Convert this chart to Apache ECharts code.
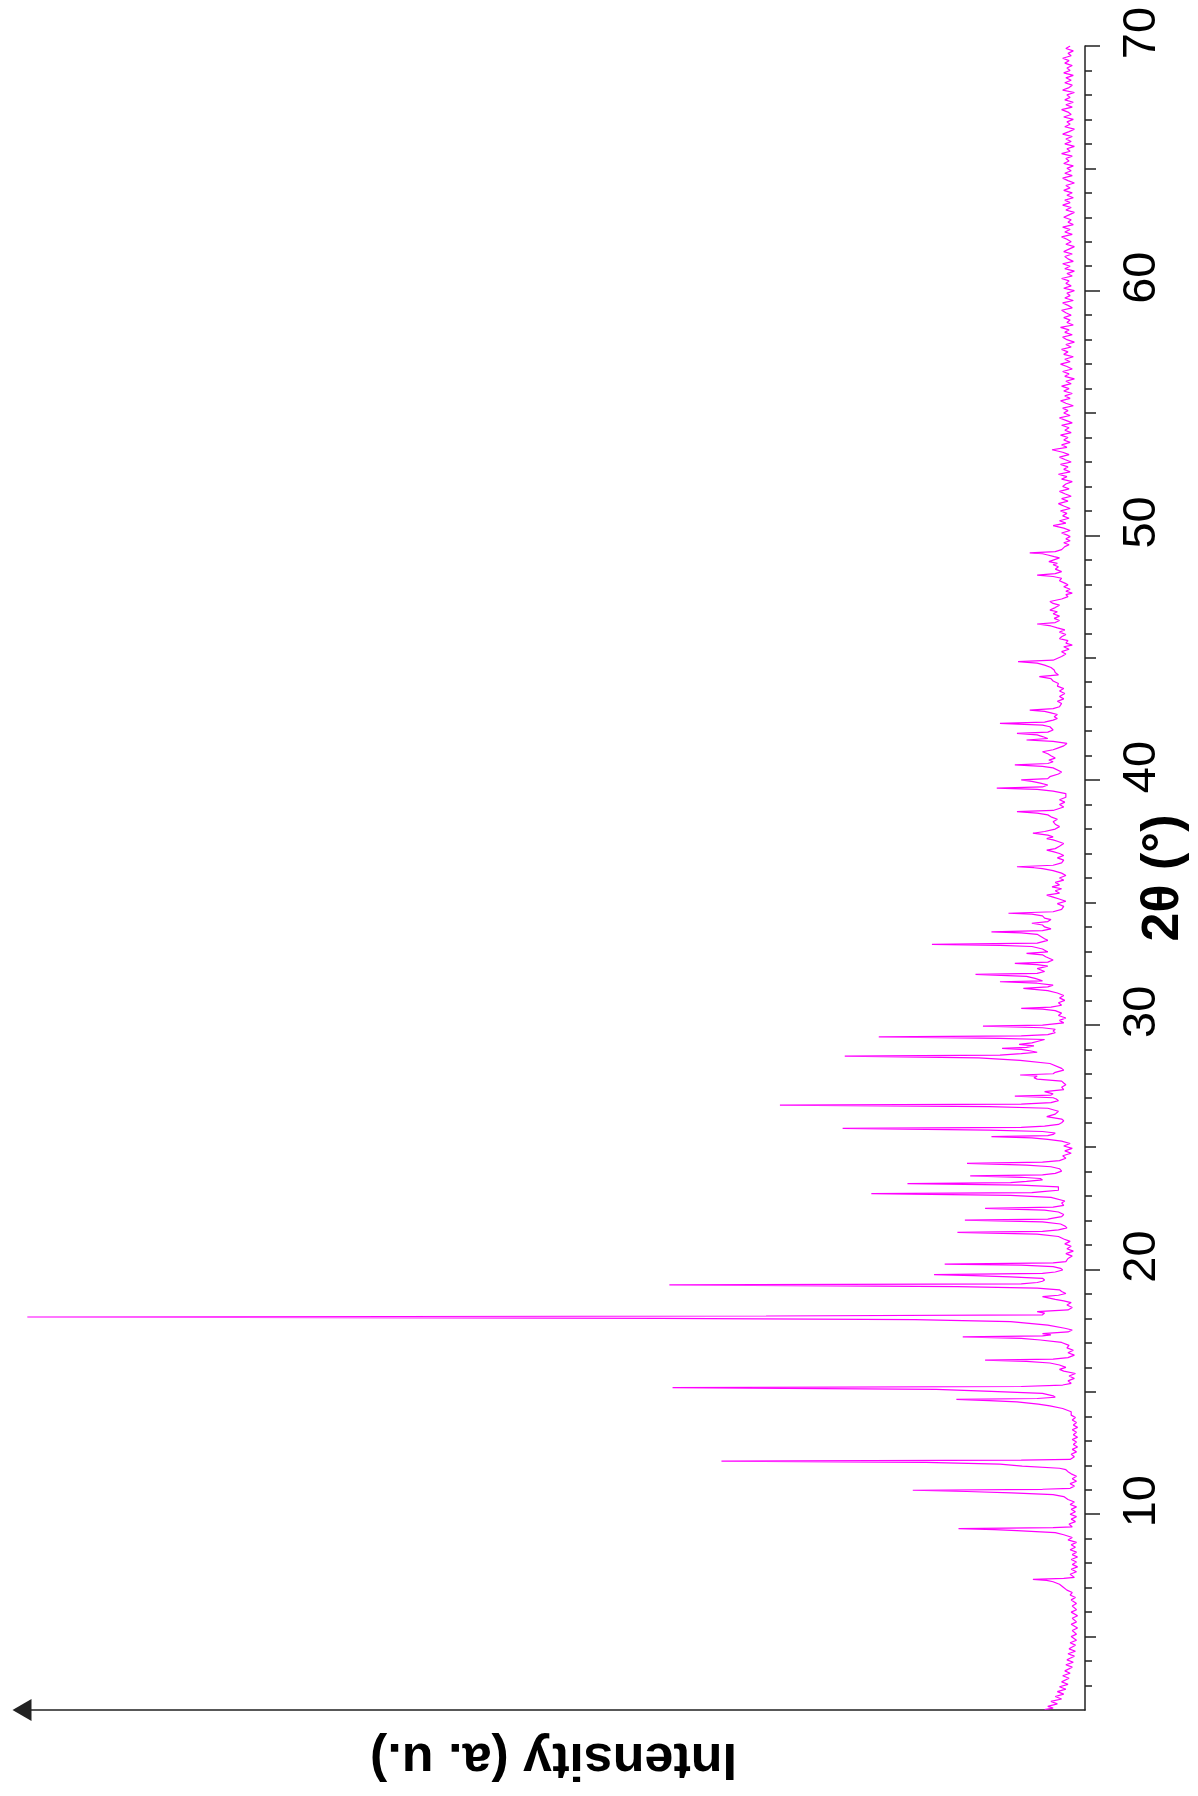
<!DOCTYPE html>
<html>
<head>
<meta charset="utf-8">
<title>XRD pattern</title>
<script src="https://cdn.jsdelivr.net/npm/echarts@6/dist/echarts.min.js"></script>
<style>
html, body { margin: 0; padding: 0; background: #fff; }
#main { width: 1198px; height: 1796px; }
</style>
</head>
<body>
<div id="main"></div>
<script>
/* XRD pattern, drawn turned a quarter turn: 2θ runs up the right side, intensity grows to the left */

// [2θ, intensity (a. u.)]
const lowAngle = [
    [2.02,38],[2.08,30],[2.15,35],[2.25,26],[2.35,32],[2.45,22],[2.55,28],[2.65,20],[2.75,26],[2.85,18],
    [2.95,24],[3.05,16],[3.15,22],[3.3,15],[3.4,21],[3.5,14],[3.6,19],[3.75,12],[3.85,18],[3.95,11],
    [4.05,17],[4.2,10],[4.3,16],[4.4,9],[4.5,15],[4.65,9],[4.75,14],[4.85,8],[5.0,13],[5.1,8],
    [5.25,12],[5.35,7],[5.5,13],[5.6,8],[5.75,12],[5.85,7],[6.0,13],[6.1,8],[6.25,12],[6.35,8],
    [6.5,13],[6.6,9],[6.7,14],[6.8,12],[6.9,17],[7.04,21],[7.14,24],[7.24,30],[7.30,36],[7.34,49],
    [7.38,20],[7.42,10],[7.55,14],[7.65,8],[7.75,13],[7.85,7],[7.95,12],[8.05,8],[8.15,13],[8.25,7],
    [8.35,12],[8.45,8],[8.55,14],[8.65,9],[8.75,13],[8.85,8],[8.95,16],[9.05,12],[9.16,20],[9.25,28],
    [9.33,64],[9.37,85],[9.41,119],[9.45,30],[9.48,12],[9.6,15],[9.7,9],[9.8,13],[9.9,8],[10.0,14],
    [10.1,9],[10.2,13],[10.3,8],[10.4,14],[10.5,10],[10.6,16],[10.72,20],[10.80,30],[10.87,69],[10.93,111],
    [10.98,162],[11.02,40],[11.06,14],[11.15,10],[11.25,14],[11.35,8],[11.45,12],[11.55,8],[11.65,13],[11.74,16],
    [11.82,18],[11.88,24],[11.97,59],[12.05,80],[12.12,150],[12.17,342],[12.21,60],[12.24,14],[12.35,10],[12.45,13]
];

const midAngle = [
    [12.55,8],[12.65,12],[12.75,7],[12.85,11],[12.95,8],[13.05,12],[13.15,7],[13.25,11],[13.35,8],[13.45,12],
    [13.55,7],[13.65,11],[13.75,8],[13.85,12],[13.95,9],[14.05,13],[14.19,13],[14.32,21],[14.43,33],[14.50,44],
    [14.59,64],[14.64,90],[14.69,121],[14.73,45],[14.78,28],[14.84,30],[14.94,40],[15.02,88],[15.10,140],[15.17,388],
    [15.22,60],[15.28,21],[15.35,13],[15.45,16],[15.55,10],[15.65,15],[15.75,9],[15.85,20],[15.92,24],[16.0,18],
    [16.10,24],[16.18,33],[16.25,55],[16.30,94],[16.34,30],[16.40,16],[16.5,10],[16.6,16],[16.7,11],[16.8,17],
    [16.9,15],[17.02,22],[17.12,42],[17.19,60],[17.25,115],[17.29,40],[17.33,32],[17.38,40],[17.45,16],[17.53,12],
    [17.6,19],[17.73,35],[17.87,70],[17.95,160],[18.0,400],[18.06,995],[18.10,300],[18.15,40],[18.22,38],[18.28,45],
    [18.35,16],[18.45,12],[18.55,17],[18.65,13],[18.72,20],[18.78,28],[18.89,40],[18.95,25],[19.02,18],[19.10,22],
    [19.17,24],[19.24,45],[19.30,120],[19.37,391],[19.41,60],[19.47,45],[19.52,40],[19.57,38],[19.64,40],[19.70,70],
    [19.75,105],[19.79,142],[19.84,40],[19.90,28],[19.98,21],[20.05,23],[20.12,30],[20.18,60],[20.22,132],[20.27,30],
    [20.32,18],[20.45,16],[20.55,12],[20.65,18],[20.75,11],[20.85,17],[20.95,13],[21.05,19],[21.15,14],[21.25,20],
    [21.35,25],[21.45,45],[21.52,120],[21.56,40],[21.62,25],[21.70,17],[21.78,19],[21.86,23],[21.95,40],[22.02,113],
    [22.06,35],[22.10,30],[22.16,22],[22.25,20],[22.35,25],[22.43,38],[22.50,94],[22.55,30],[22.62,20],[22.72,22],
    [22.80,19],[22.87,20],[22.95,32],[23.03,70],[23.10,201],[23.14,50],[23.18,40],[23.24,25],[23.30,24],[23.38,25],
    [23.45,60],[23.51,167],[23.55,70],[23.60,55],[23.66,40],[23.72,42],[23.77,60],[23.83,108],[23.87,40],[23.93,28],
    [24.02,22],[24.12,24],[24.20,32],[24.27,55],[24.34,111],[24.39,40],[24.45,24],[24.55,18],[24.65,21],[24.75,13],
    [24.85,19],[24.95,12],[25.05,20],[25.15,14],[25.25,22],[25.32,35],[25.38,50],[25.43,88],[25.47,35],[25.52,30],
    [25.58,28],[25.64,40],[25.70,90],[25.77,228],[25.81,60],[25.86,38],[25.93,25],[26.0,22],[26.08,20],[26.15,22],
    [26.25,36],[26.35,28],[26.47,25],[26.59,35],[26.66,90],[26.72,287],[26.76,60],[26.82,32],[26.90,25],[26.97,27],
    [27.02,30],[27.09,66],[27.13,32],[27.18,30],[27.27,38],[27.35,20],[27.45,22],[27.55,18],[27.62,20],[27.70,22],
    [27.78,45],[27.84,48],[27.90,45],[27.95,61],[28.00,30],[28.06,28],[28.15,20],[28.22,22],[28.30,21],[28.42,33],
    [28.55,61],[28.65,100],[28.72,226],[28.76,80],[28.82,60],[28.88,45],[28.94,52],[29.00,60],[29.04,78],[29.08,55],
    [29.14,48],[29.20,62],[29.26,50],[29.32,45],[29.40,38],[29.45,80],[29.51,194],[29.55,60],[29.60,35],[29.68,28],
    [29.75,30],[29.82,28],[29.88,40],[29.95,96]
];

const highAngle = [
    [29.99,40],[30.08,20],[30.18,24],[30.28,18],[30.38,25],[30.48,22],[30.58,28],[30.64,40],[30.67,60],[30.72,32],
    [30.80,22],[30.90,25],[31.0,19],[31.1,24],[31.2,20],[31.3,26],[31.4,35],[31.49,58],[31.55,35],[31.62,30],
    [31.70,45],[31.76,80],[31.80,40],[31.90,47],[31.98,55],[32.06,103],[32.10,45],[32.18,38],[32.30,45],[32.40,35],
    [32.46,45],[32.51,66],[32.56,35],[32.65,30],[32.78,37],[32.86,40],[32.92,55],[32.98,35],[33.1,40],[33.2,50],
    [33.25,80],[33.29,144],[33.34,45],[33.45,35],[33.52,38],[33.60,38],[33.70,45],[33.76,60],[33.80,88],[33.85,40],
    [33.92,32],[34.0,38],[34.08,40],[34.15,50],[34.22,35],[34.30,32],[34.36,38],[34.45,40],[34.52,50],[34.56,72],
    [34.62,30],[34.72,22],[34.84,20],[34.95,26],[35.05,18],[35.15,25],[35.22,30],[35.30,36],[35.38,24],[35.48,28],
    [35.56,22],[35.64,31],[35.72,24],[35.82,28],[35.91,20],[36.0,24],[36.1,18],[36.2,22],[36.3,30],[36.38,40],
    [36.42,48],[36.46,64],[36.52,30],[36.62,22],[36.73,20],[36.82,26],[36.92,20],[37.0,24],[37.08,30],[37.14,36],
    [37.20,28],[37.30,24],[37.41,20],[37.50,26],[37.56,30],[37.61,36],[37.68,30],[37.75,35],[37.83,49],[37.90,38],
    [38.0,28],[38.1,24],[38.2,28],[38.3,30],[38.4,26],[38.5,32],[38.58,35],[38.65,45],[38.71,64],[38.76,30],
    [38.9,20],[39.0,24],[39.1,19],[39.2,24],[39.3,18],[39.45,18],[39.55,30],[39.62,45],[39.67,83],[39.72,40],
    [39.80,35],[39.88,42],[39.95,50],[40.01,60],[40.06,35],[40.14,33],[40.25,25],[40.33,22],[40.41,22],[40.50,30],
    [40.56,40],[40.62,66],[40.68,35],[40.75,30],[40.82,34],[40.90,28],[41.0,32],[41.08,35],[41.16,40],[41.24,30],
    [41.32,25],[41.4,20],[41.5,17],[41.58,30],[41.64,55],[41.70,35],[41.78,40],[41.85,45],[41.91,64],[41.96,35],
    [42.05,30],[42.18,33],[42.25,40],[42.32,80],[42.37,38],[42.45,30],[42.52,26],[42.59,29],[42.68,26],[42.75,32],
    [42.81,38],[42.86,52],[42.92,30],[43.0,24],[43.13,22],[43.22,26],[43.32,20],[43.42,24],[43.54,19],[43.64,24],
    [43.74,20],[43.84,26],[43.95,25],[44.05,30],[44.15,32],[44.23,43],[44.30,25],[44.40,28],[44.50,29],[44.60,32],
    [44.70,38],[44.78,45],[44.84,63],[44.90,30],[45.05,22],[45.15,18],[45.25,22],[45.35,15],[45.45,20],[45.52,12],
    [45.60,18],[45.70,16],[45.78,24],[45.86,22],[45.95,18],[46.05,24],[46.14,19],[46.22,26],[46.30,32],[46.38,45],
    [46.44,28],[46.52,24],[46.61,29],[46.70,24],[46.80,30],[46.88,26],[46.95,33],[47.05,28],[47.15,24],[47.22,30],
    [47.30,33],[47.40,22],[47.50,16],[47.58,18],[47.64,12],[47.72,18],[47.80,14],[47.90,20],[47.98,16],[48.05,19],
    [48.15,24],[48.25,22],[48.32,30],[48.38,45],[48.44,28],[48.52,22],[48.62,28],[48.72,25],[48.80,30],[48.86,26],
    [48.93,34],[49.02,28],[49.08,24],[49.13,29],[49.20,35],[49.25,40],[49.29,52],[49.34,28],[49.42,22],[49.54,19],
    [49.62,15],[49.70,20],[49.78,14],[49.86,18],[49.95,14]
];

// 50–70°: noisy background, one reading every 0.1°
const tailStart = 50;
const tailStep = 0.1;
const tailI = [
    16,22,14,20,30,18,24,15,21,17,23,
    14,20,25,16,22,13,19,24,15,21,
    18,12,22,17,25,14,20,16,23,13,
    19,24,15,21,31,17,22,14,20,16,
    23,13,19,15,22,12,18,24,14,20,
    16,21,11,18,23,14,19,12,20,15,
    22,13,18,10,19,15,21,12,17,23,
    14,19,11,20,16,22,13,18,10,17,
    21,12,19,15,23,11,17,14,20,13,
    18,22,12,16,21,11,19,14,17,10,
    20,13,18,15,22,12,17,10,19,14,
    21,11,16,19,12,20,15,10,18,13,
    17,22,12,19,14,21,11,16,13,20,
    15,10,18,13,21,14,19,11,17,12,
    20,14,18,10,16,21,12,19,13,17,
    11,20,15,18,12,22,14,17,10,19,
    13,18,12,21,15,10,19,14,17,11,
    20,13,16,22,12,18,11,19,14,17,
    10,21,15,12,19,13,18,11,20,14,
    17,12,19,15,21,13,16,11,18,14
];

const majorTicks = [10, 20, 30, 40, 50, 60, 70];
const midTicks = [5, 15, 25, 35, 45, 55, 65];
const minorTicks = [];
for (let t = 3; t <= 69; t++) minorTicks.push(t);

const AXIS = '#222';
const FONT = 'Liberation Sans, Arial, sans-serif';

let tail = tailI.map((v, i) => [Math.round((tailStart + i * tailStep) * 100) / 100, v]);
let pattern = lowAngle.concat(midAngle, highAngle, tail);

function tickAxis(ticks, len) {
    return {
        type: 'value',
        position: 'right',
        min: 2,
        max: 70,
        axisLine: { show: false },
        axisTick: {
            show: true,
            customValues: ticks,
            length: len,
            lineStyle: { color: AXIS, width: 1.5 }
        },
        axisLabel: { show: false },
        splitLine: { show: false }
    };
}

let yAxis = [{
    type: 'value',
    position: 'right',
    min: 2,
    max: 70,
    name: '2θ (°)',
    nameLocation: 'middle',
    nameRotate: 90,
    nameGap: 53,
    nameMoveOverlap: false,
    nameTextStyle: { fontFamily: FONT, fontSize: 52, fontWeight: 'bold', color: '#000' },
    axisLine: { show: true, lineStyle: { color: AXIS, width: 1.5 } },
    axisTick: {
        show: true,
        customValues: majorTicks,
        length: 15,
        lineStyle: { color: AXIS, width: 1.5 }
    },
    axisLabel: {
        show: true,
        customValues: majorTicks,
        rotate: 90,
        margin: 34,
        padding: [0, 0, 0, 26],   // labels sit a little above their ticks
        fontFamily: FONT,
        fontSize: 47,
        color: '#000'
    },
    splitLine: { show: false }
}, tickAxis(midTicks, 11), tickAxis(minorTicks, 7)];

let xAxis = {
    type: 'value',
    min: 0,
    max: 1000,
    inverse: true,
    position: 'bottom',
    name: 'Intensity (a. u.)',
    nameLocation: 'middle',
    nameRotate: 180,
    nameGap: 22,
    nameTextStyle: { fontFamily: FONT, fontSize: 52, fontWeight: 'bold', color: '#000' },
    axisLine: {
        show: true,
        symbol: ['triangle', 'none'],
        symbolSize: [22, 19],
        lineStyle: { color: AXIS, width: 1.5 }
    },
    axisTick: { show: false },
    axisLabel: { show: false },
    splitLine: { show: false }
};

let option = {
    backgroundColor: '#fff',
    animation: false,
    grid: { left: 22, right: 113, top: 46, bottom: 86, outerBoundsMode: 'none', containLabel: false },
    xAxis: xAxis,
    yAxis: yAxis,
    series: [{
        type: 'line',
        xAxisIndex: 0,
        yAxisIndex: 0,
        data: pattern.map(p => [p[1], p[0]]),
        showSymbol: false,
        symbol: 'none',
        silent: true,
        lineStyle: { color: '#ff00ff', width: 1.2 }
    }]
};

let chart = echarts.init(document.getElementById('main'));
chart.setOption(option);
</script>
</body>
</html>
